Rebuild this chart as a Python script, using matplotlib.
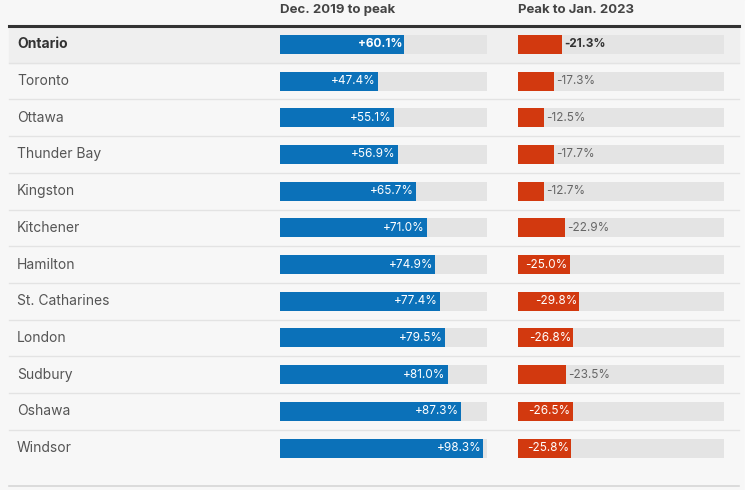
import matplotlib.pyplot as plt
from matplotlib.patches import Rectangle

# data
cities = ["Ontario", "Toronto", "Ottawa", "Thunder Bay", "Kingston", "Kitchener",
          "Hamilton", "St. Catharines", "London", "Sudbury", "Oshawa", "Windsor"]
rise = [60.1, 47.4, 55.1, 56.9, 65.7, 71.0, 74.9, 77.4, 79.5, 81.0, 87.3, 98.3]
drop = [-21.3, -17.3, -12.5, -17.7, -12.7, -22.9, -25.0, -29.8, -26.8, -23.5, -26.5, -25.8]
headers = ["Dec. 2019 to peak", "Peak to Jan. 2023"]

BLUE = "#0b71b9"
RED = "#d2390f"
TRACK = "#e4e4e4"
BG = "#f7f7f7"

plt.rcParams['font.family'] = ['Inter', 'DejaVu Sans']

W, H = 755, 490
fig = plt.figure(figsize=(W / 100, H / 100), dpi=100, facecolor=BG)

# layout axes in pixel units (top-left origin)
bg = fig.add_axes([0, 0, 1, 1])
bg.set_xlim(0, W)
bg.set_ylim(H, 0)
bg.axis('off')

top = 26.0
row_h = 36.7
n = len(cities)

# white margin on the right side of the page
bg.add_patch(Rectangle((745, 0), 10, H, color="white", zorder=0))
# highlighted first row
bg.add_patch(Rectangle((9, top), 730, row_h, color="#efefef", zorder=0))
for i in range(1, n):
    y = top + i * row_h
    bg.plot([9, 739], [y, y], color="#e3e3e3", lw=1, zorder=1)
bg.plot([9, 739], [top, top], color="#333333", lw=2.2, zorder=2)
bg.plot([9, 739], [486, 486], color="#d6d6d6", lw=1.2, zorder=2)

for i, name in enumerate(cities):
    y = top + (i + 0.5) * row_h
    bold = i == 0
    bg.text(17, y, name, ha='left', va='center', fontsize=10,
            fontweight='bold' if bold else 'normal',
            color="#333333" if bold else "#555555")

bg.text(280, 10, headers[0], ha='left', va='center', fontsize=9.5,
        fontweight='bold', color="#444444")
bg.text(518, 10, headers[1], ha='left', va='center', fontsize=9.5,
        fontweight='bold', color="#444444")


def bar_axes(x0, x1):
    ax = fig.add_axes([x0 / W, (H - top - n * row_h) / H, (x1 - x0) / W, n * row_h / H])
    ax.set_xlim(0, 100)
    ax.set_ylim(n - 0.5, -0.5)
    ax.axis('off')
    ax.patch.set_alpha(0)
    return ax


rows = list(range(n))
bh = 0.52

ax1 = bar_axes(280, 487)
ax1.barh(rows, [100] * n, height=bh, color=TRACK, zorder=1)
ax1.barh(rows, rise, height=bh, color=BLUE, zorder=2)
for i, v in enumerate(rise):
    ax1.text(v - 1.0, i, f"+{v:.1f}%", ha='right', va='center', fontsize=8.5,
             color='white', fontweight='bold' if i == 0 else 'normal', zorder=3)

ax2 = bar_axes(518, 724)
ax2.barh(rows, [100] * n, height=bh, color=TRACK, zorder=1)
ax2.barh(rows, [abs(v) for v in drop], height=bh, color=RED, zorder=2)
for i, v in enumerate(drop):
    w = abs(v)
    lab = f"-{w:.1f}%"
    fw = 'bold' if i == 0 else 'normal'
    if w >= 24:
        ax2.text(w - 1.0, i, lab, ha='right', va='center', fontsize=8.5,
                 color='white', fontweight=fw, zorder=3)
    else:
        ax2.text(w + 1.0, i, lab, ha='left', va='center', fontsize=8.5,
                 color="#333333" if i == 0 else "#666666", fontweight=fw, zorder=3)

fig.savefig("out.png", dpi=100, facecolor=BG)
